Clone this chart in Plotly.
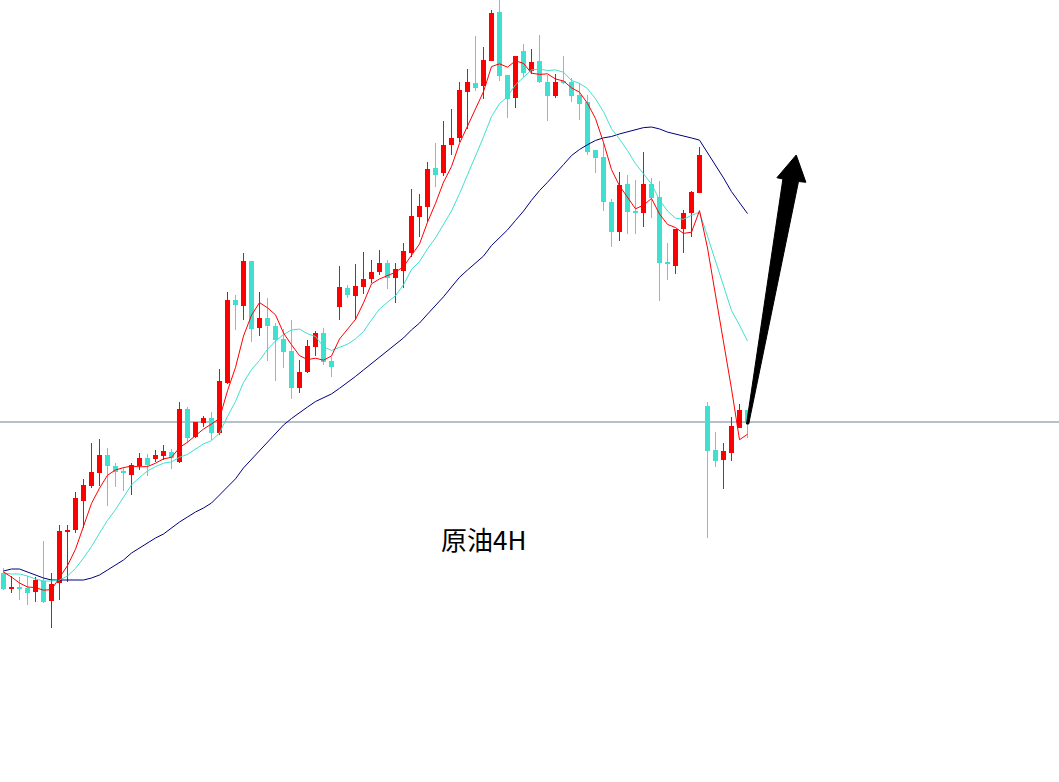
import plotly.graph_objects as go
import pandas as pd

# ---- Data (crude oil 4H candles, price units) ----
open_ = [78.27, 78.11, 78.13, 78.12, 78.08, 78.19, 77.99, 78.17, 78.68, 78.70,
         78.99, 79.14, 79.27, 79.45, 79.34, 79.29, 79.25, 79.34, 79.42, 79.41,
         79.44, 79.48, 79.38, 79.91, 79.63, 79.77, 79.82, 79.67, 80.17, 81.00,
         80.94, 81.39, 80.72, 80.82, 80.74, 80.61, 80.49, 80.12, 80.28, 80.53,
         80.67, 80.39, 80.93, 81.12, 81.04, 81.13, 81.21, 81.28, 81.37, 81.22,
         81.29, 81.47, 81.83, 81.93, 82.32, 82.27, 82.55, 82.62, 83.08, 83.17,
         83.14, 83.39, 83.88, 83.25, 83.02, 83.49, 83.29, 83.39, 83.18, 83.04,
         83.19, 83.18, 83.05, 82.98, 82.50, 82.43, 81.98, 81.68, 82.16, 81.88,
         81.87, 82.16, 82.03, 81.37, 81.34, 81.71, 81.87, 82.07, 79.94, 79.50,
         79.40, 79.47, 79.72, 79.90]
close = [78.11, 78.13, 78.11, 78.07, 78.20, 77.98, 78.16, 78.69, 78.69, 79.02,
         79.15, 79.28, 79.45, 79.34, 79.28, 79.27, 79.35, 79.42, 79.35, 79.45,
         79.49, 79.42, 79.91, 79.62, 79.78, 79.82, 79.67, 80.19, 81.00, 80.95,
         81.39, 80.71, 80.82, 80.74, 80.60, 80.48, 80.12, 80.28, 80.54, 80.67,
         80.38, 80.33, 81.13, 81.05, 81.14, 81.21, 81.28, 81.37, 81.22, 81.31,
         81.49, 81.84, 81.94, 82.31, 82.25, 82.55, 82.62, 83.10, 83.18, 83.12,
         83.40, 83.87, 83.24, 83.01, 83.44, 83.27, 83.38, 83.18, 83.04, 83.18,
         83.17, 83.04, 82.96, 82.48, 82.42, 81.98, 81.68, 82.15, 81.88, 81.87,
         82.16, 82.02, 81.37, 81.36, 81.71, 81.87, 82.08, 82.45, 79.49, 79.39,
         79.49, 79.74, 79.90, 79.77]
high = [78.32, 78.24, 78.23, 78.24, 78.23, 78.59, 78.27, 78.75, 78.75, 79.08,
        79.21, 79.57, 79.61, 79.52, 79.37, 79.33, 79.37, 79.47, 79.46, 79.50,
        79.55, 79.51, 79.98, 79.93, 79.78, 79.84, 79.88, 80.31, 81.08, 81.05,
        81.47, 81.39, 81.08, 81.02, 80.77, 80.71, 80.80, 80.40, 80.60, 80.69,
        80.72, 80.43, 81.34, 81.15, 81.36, 81.48, 81.40, 81.50, 81.40, 81.37,
        81.57, 82.11, 82.06, 82.38, 82.57, 82.79, 82.91, 83.18, 83.31, 83.64,
        83.53, 83.90, 84.02, 83.25, 83.44, 83.56, 83.51, 83.65, 83.25, 83.26,
        83.44, 83.22, 83.17, 83.05, 82.50, 82.58, 82.01, 82.28, 82.25, 82.20,
        82.48, 82.22, 82.19, 81.57, 81.71, 81.90, 82.09, 82.53, 79.98, 79.68,
        79.57, 79.83, 79.96, 79.90]
low = [78.10, 78.07, 78.00, 77.95, 77.98, 77.97, 77.72, 78.00, 78.18, 78.67,
       78.72, 79.12, 79.14, 78.94, 79.13, 79.09, 79.05, 79.30, 79.24, 79.38,
       79.40, 79.31, 79.37, 79.57, 79.62, 79.73, 79.60, 79.65, 80.16, 80.70,
       80.80, 80.58, 80.64, 80.39, 80.19, 80.32, 80.01, 80.07, 80.27, 80.44,
       80.35, 80.23, 80.80, 81.02, 80.80, 81.06, 81.17, 81.25, 81.11, 80.97,
       81.12, 81.43, 81.63, 81.78, 82.13, 82.24, 82.45, 82.58, 82.71, 83.09,
       83.01, 83.39, 83.19, 82.82, 82.92, 83.23, 83.26, 83.17, 82.79, 83.02,
       83.16, 82.98, 82.80, 82.45, 82.27, 81.89, 81.53, 81.59, 81.66, 81.66,
       81.73, 81.82, 80.99, 81.20, 81.26, 81.47, 81.63, 82.07, 78.62, 79.33,
       79.11, 79.39, 79.72, 79.62]

# moving-average values at the start of the window (history not shown)
ma5_head = [78.28, 78.23, 78.17, 78.13]
ma10_head = [78.27, 78.26, 78.26, 78.24, 78.21, 78.19, 78.19, 78.20, 78.24]
ma30_head = [78.29, 78.31, 78.31, 78.28, 78.25, 78.22, 78.20, 78.20, 78.20, 78.20,
             78.20, 78.22, 78.25, 78.30, 78.35, 78.40, 78.47, 78.52, 78.57, 78.62,
             78.66, 78.72, 78.78, 78.83, 78.88, 78.92, 78.97, 79.05, 79.13]

level_line = 79.78
title_text = "原油4H"

# hand-drawn arrow annotation (x in candle index, y in price)
arrow_pts = [(92.875, 79.76), (97.425, 82.21), (96.675, 82.223), (99.09, 82.45),
             (100.3, 82.177), (99.375, 82.185), (93.15, 79.76)]

UP = "#ff0000"
DOWN = "#40e0d0"

n = len(close)
idx = list(range(n))
s = pd.Series(close)
ma5 = s.rolling(5).mean().tolist()
ma10 = s.rolling(10).mean().tolist()
ma30 = s.rolling(30).mean().tolist()
ma5[:len(ma5_head)] = ma5_head
ma10[:len(ma10_head)] = ma10_head
ma30[:len(ma30_head)] = ma30_head

colors = [UP if c >= o else DOWN for o, c in zip(open_, close)]
base = [min(o, c) for o, c in zip(open_, close)]
height = [max(abs(c - o), 0.012) for o, c in zip(open_, close)]

fig = go.Figure()
fig.add_trace(go.Bar(x=idx, y=height, base=base, width=0.62,
                     marker=dict(color=colors, line=dict(width=0)),
                     hoverinfo="skip", showlegend=False))

for col in (UP, DOWN):
    wx, wy = [], []
    for i in idx:
        if colors[i] == col:
            wx += [i, i, None]
            wy += [low[i], high[i], None]
    fig.add_trace(go.Scatter(x=wx, y=wy, mode="lines",
                             line=dict(color=col, width=1),
                             hoverinfo="skip", showlegend=False))

fig.add_trace(go.Scatter(x=idx, y=ma30, mode="lines", line=dict(color="#000080", width=1),
                         hoverinfo="skip", showlegend=False))
fig.add_trace(go.Scatter(x=idx, y=ma10, mode="lines", line=dict(color="#40e0d0", width=1),
                         hoverinfo="skip", showlegend=False))
fig.add_trace(go.Scatter(x=idx, y=ma5, mode="lines", line=dict(color="#ff0000", width=1),
                         hoverinfo="skip", showlegend=False))

path = "M " + " L ".join(f"{x},{y}" for x, y in arrow_pts) + " Z"
fig.add_shape(type="path", path=path, xref="x", yref="y",
              fillcolor="black", line=dict(color="black", width=1))
fig.add_shape(type="line", xref="paper", x0=0, x1=1, yref="y", y0=level_line, y1=level_line,
              line=dict(color="#6f8296", width=1), layer="below")

fig.add_annotation(text=title_text, xref="paper", yref="paper", x=0.457, y=0.312,
                   xanchor="center", yanchor="middle",
                   showarrow=False, font=dict(family="Noto Sans CJK SC", size=26, color="black"))

fig.update_layout(
    width=1059, height=782,
    margin=dict(l=0, r=0, t=0, b=0),
    paper_bgcolor="white", plot_bgcolor="white",
    bargap=0, showlegend=False,
    xaxis=dict(range=[-0.4375, 131.9375], visible=False, fixedrange=True),
    yaxis=dict(range=[76.18, 84.00], visible=False, fixedrange=True),
)

fig.write_html("out.html", config={"displayModeBar": False},
               post_script="document.body.style.margin='0';document.body.style.overflow='hidden';")
